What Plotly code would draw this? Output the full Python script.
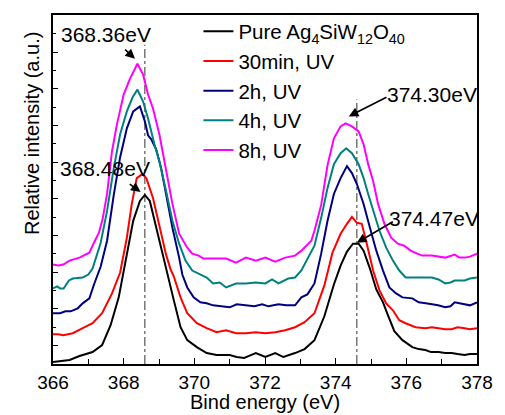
import plotly.graph_objects as go

# Binding energy (eV) and relative intensity (a.u., stacked) for each sample
e_pure = [366.0, 366.2, 366.47, 366.75, 367.12, 367.39, 367.63, 367.86, 368.09, 368.27, 368.46, 368.6,
          368.74, 368.92, 369.1, 369.29, 369.42, 369.61, 369.8, 370.07, 370.35, 370.63, 371.0, 371.2,
          371.41, 371.6, 371.74, 372.01, 372.15, 372.29, 372.52, 372.7, 372.85, 373.12, 373.4, 373.68,
          373.95, 374.14, 374.32, 374.49, 374.65, 374.79, 374.97, 375.15, 375.34, 375.47, 375.66, 375.89,
          376.17, 376.35, 376.54, 376.7, 376.91, 377.1, 377.28, 377.45, 377.65, 377.8, 378.0]
i_pure = [2, 3, 4, 8, 12, 19, 39, 67, 111, 144, 164, 170,
          164, 137, 111, 84, 64, 37, 24, 17, 11, 9, 9, 7,
          6, 9, 11, 7, 9, 11, 7, 9, 11, 15, 24, 48,
          80, 99, 113, 121, 121, 114, 96, 75, 62, 50, 33, 24,
          17, 15, 14, 12, 12, 11, 11, 10, 9, 10, 10]

e_30min = [366.0, 366.15, 366.29, 366.45, 366.56, 366.84, 367.12, 367.39, 367.67, 367.9, 368.09, 368.23,
           368.37, 368.53, 368.64, 368.83, 369.01, 369.2, 369.33, 369.42, 369.61, 369.8, 370.07, 370.35,
           370.63, 370.9, 371.18, 371.46, 371.74, 372.01, 372.29, 372.57, 372.85, 373.12, 373.4, 373.68,
           373.91, 374.14, 374.32, 374.46, 374.6, 374.74, 374.88, 375.06, 375.24, 375.43, 375.62, 375.8,
           375.98, 376.26, 376.54, 376.72, 376.91, 377.1, 377.28, 377.45, 377.65, 377.8, 378.0]
i_30min = [30, 30, 29, 30, 31, 36, 41, 51, 71, 92, 127, 161,
           187, 191, 187, 167, 140, 110, 95, 88, 67, 51, 41, 36,
           32, 34, 31, 31, 32, 31, 32, 34, 37, 42, 51, 79,
           112, 131, 141, 148, 142, 141, 121, 94, 74, 61, 54, 44,
           41, 37, 36, 37, 36, 35, 35, 37, 36, 35, 36]

e_2h = [366.0, 366.2, 366.35, 366.5, 366.7, 366.84, 367.03, 367.16, 367.35, 367.53, 367.72, 367.9,
        368.09, 368.27, 368.46, 368.6, 368.69, 368.78, 368.92, 369.06, 369.2, 369.38, 369.57, 369.66,
        369.8, 369.98, 370.17, 370.35, 370.53, 370.75, 371.0, 371.2, 371.46, 371.7, 371.92, 372.1,
        372.38, 372.6, 372.85, 373.03, 373.2, 373.4, 373.59, 373.77, 373.95, 374.14, 374.32, 374.46,
        374.6, 374.79, 374.97, 375.15, 375.34, 375.52, 375.71, 375.89, 376.17, 376.35, 376.55, 376.72,
        376.9, 377.1, 377.25, 377.37, 377.5, 377.65, 377.8, 378.0]
i_2h = [51, 51, 53, 53, 56, 61, 66, 80, 98, 124, 170, 208,
        237, 254, 259, 244, 230, 226, 216, 197, 171, 137, 107, 90,
        77, 67, 62, 61, 59, 58, 57, 60, 59, 58, 60, 58,
        60, 59, 59, 67, 70, 81, 111, 144, 171, 187, 199, 192,
        181, 161, 137, 114, 94, 77, 71, 67, 66, 62, 61, 60,
        59, 57, 58, 62, 61, 60, 59, 62]

e_4h = [366.0, 366.12, 366.2, 366.3, 366.45, 366.56, 366.84, 367.0, 367.12, 367.35, 367.53, 367.72,
        367.9, 368.09, 368.25, 368.39, 368.55, 368.69, 368.87, 369.01, 369.2, 369.38, 369.57, 369.75,
        369.94, 370.12, 370.35, 370.53, 370.72, 370.9, 371.18, 371.46, 371.74, 372.01, 372.2, 372.38,
        372.66, 372.85, 373.03, 373.22, 373.4, 373.59, 373.77, 373.95, 374.14, 374.3, 374.46, 374.65,
        374.79, 374.92, 375.06, 375.24, 375.43, 375.62, 375.8, 375.98, 376.26, 376.45, 376.72, 376.91,
        377.1, 377.25, 377.37, 377.65, 377.8, 378.0]
i_4h = [76, 78, 76, 76, 84, 86, 87, 90, 96, 122, 154, 197,
        231, 254, 268, 276, 264, 247, 221, 204, 174, 144, 121, 104,
        94, 91, 87, 81, 82, 77, 81, 81, 82, 81, 85, 81,
        86, 87, 94, 107, 119, 147, 177, 201, 212, 217, 212, 201,
        187, 171, 154, 134, 117, 104, 94, 87, 87, 87, 87, 85,
        81, 82, 84, 84, 86, 87]

e_8h = [366.0, 366.15, 366.29, 366.47, 366.75, 367.03, 367.16, 367.3, 367.4, 367.53, 367.67, 367.81,
        368.0, 368.18, 368.39, 368.55, 368.69, 368.83, 369.01, 369.2, 369.38, 369.57, 369.8, 369.94,
        370.12, 370.26, 370.53, 370.9, 371.18, 371.46, 371.74, 372.01, 372.29, 372.57, 372.85, 373.03,
        373.31, 373.4, 373.59, 373.77, 373.95, 374.14, 374.28, 374.46, 374.65, 374.79, 374.92, 375.06,
        375.2, 375.38, 375.57, 375.76, 375.94, 376.12, 376.31, 376.45, 376.72, 376.9, 377.1, 377.37,
        377.5, 377.65, 377.8, 378.0]
i_8h = [100, 99, 100, 104, 107, 112, 122, 132, 145, 171, 214, 241,
        271, 287, 302, 291, 271, 257, 231, 197, 161, 131, 117, 111,
        109, 106, 106, 106, 102, 107, 104, 107, 103, 107, 109, 114,
        124, 134, 160, 200, 227, 239, 242, 239, 234, 221, 201, 184,
        161, 141, 127, 121, 119, 114, 111, 109, 109, 108, 107, 110,
        107, 107, 108, 111]

series_names = ["Pure Ag<sub>4</sub>SiW<sub>12</sub>O<sub>40</sub>", "30min, UV", "2h, UV", "4h, UV", "8h, UV"]
series_colors = ["#000000", "#ff0000", "#000080", "#008080", "#ff00ff"]
series_e = [e_pure, e_30min, e_2h, e_4h, e_8h]
series_i = [i_pure, i_30min, i_2h, i_4h, i_8h]

# Reference lines through the two Ag 3d peaks
peak_line_e = [368.6, 374.6]
peak_line_top = [321, 266]

# Peak-position labels: text, text anchor (E, I), arrow tail (E, I), arrow head (E, I)
label_text = ["368.36eV", "368.48eV", "374.30eV", "374.47eV"]
label_pos = [(367.49, 331), (367.47, 197), (376.73, 271), (376.78, 146)]
arrow_tail = [(368.0, 317.5), (368.13, 182), (375.48, 269), (375.66, 144)]
arrow_head = [(368.32, 307), (368.48, 173), (374.37, 249), (374.6, 122)]

x_ticks = [366, 368, 370, 372, 374, 376, 378]

FONT = "Arial, Liberation Sans, sans-serif"

fig = go.Figure()

for xe, top in zip(peak_line_e, peak_line_top):
    fig.add_trace(go.Scatter(x=[xe, xe], y=[0, top], mode="lines",
                             line=dict(color="#333333", width=1, dash="dashdot"),
                             showlegend=False, hoverinfo="skip"))

for name, color, ex, iy in zip(series_names, series_colors, series_e, series_i):
    fig.add_trace(go.Scatter(x=ex, y=iy, mode="lines", name=name,
                             line=dict(color=color, width=2)))

for txt, (tx, ty) in zip(label_text, label_pos):
    fig.add_annotation(x=tx, y=ty, text=txt, showarrow=False, xref="x", yref="y",
                       font=dict(family=FONT, size=21, color="black"),
                       xanchor="center", yanchor="middle")

for (ax_, ay_), (hx, hy) in zip(arrow_tail, arrow_head):
    fig.add_annotation(x=hx, y=hy, ax=ax_, ay=ay_, xref="x", yref="y", axref="x", ayref="y",
                       text="", showarrow=True, arrowhead=2, arrowsize=1.2, arrowwidth=1.6,
                       arrowcolor="black", standoff=0, startstandoff=0)

fig.add_annotation(text="Relative intensity (a.u.)", xref="paper", yref="paper",
                   x=-0.051, y=0.66, textangle=-90, showarrow=False,
                   font=dict(family=FONT, size=20, color="black"),
                   xanchor="center", yanchor="middle")
fig.add_annotation(text="Bind energy (eV)", xref="paper", yref="paper",
                   x=0.5, y=-0.108, showarrow=False,
                   font=dict(family=FONT, size=20, color="black"),
                   xanchor="center", yanchor="middle")

fig.update_layout(
    width=505, height=415,
    margin=dict(l=53, r=19, t=13, b=51),
    paper_bgcolor="white", plot_bgcolor="white",
    font=dict(family=FONT, size=20, color="black"),
    legend=dict(x=0.343, y=1.01, xanchor="left", yanchor="top",
                bgcolor="rgba(0,0,0,0)", borderwidth=0,
                font=dict(family=FONT, size=20.5, color="black"),
                tracegroupgap=0, itemwidth=30),
    showlegend=True,
)

fig.update_xaxes(range=[366, 378], tickvals=x_ticks, ticks="inside", ticklen=6, tickwidth=1.2,
                 tickcolor="black", showline=True, linecolor="black", linewidth=1.5, mirror=True,
                 showgrid=False, zeroline=False, tickfont=dict(family=FONT, size=19),
                 minor=dict(dtick=1, tick0=366, ticks="inside", ticklen=5, tickcolor="black", tickwidth=1.2))
fig.update_yaxes(range=[0, 351], showticklabels=False, tick0=18.45, dtick=36.9, ticks="inside",
                 ticklen=5, tickwidth=1.2, tickcolor="black", showline=True, linecolor="black",
                 linewidth=1.5, mirror=True, showgrid=False, zeroline=False,
                 minor=dict(tick0=0, dtick=18.45, ticks="inside", ticklen=3, tickcolor="black", tickwidth=1.2))

fig.write_html("out.html")
